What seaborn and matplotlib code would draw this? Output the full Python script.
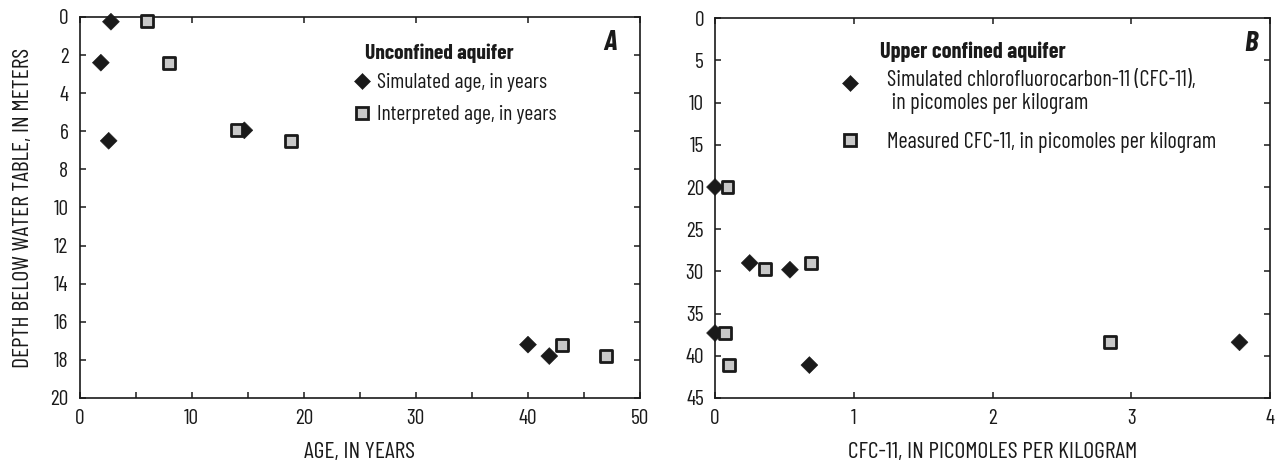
import matplotlib
matplotlib.use("Agg")
import matplotlib.pyplot as plt
import matplotlib.transforms as mtransforms
from matplotlib.ticker import MultipleLocator
from matplotlib.lines import Line2D
from matplotlib.legend_handler import HandlerLine2D
import seaborn as sns
import pandas as pd

# Panel A: unconfined aquifer, age versus depth below water table
sim_age = [2.8, 1.9, 2.6, 14.7, 40.0, 41.9]
sim_age_depth = [0.25, 2.4, 6.5, 5.95, 17.2, 17.8]
int_age = [6.0, 8.0, 14.0, 18.9, 43.0, 47.0]
int_age_depth = [0.2, 2.4, 5.95, 6.5, 17.2, 17.8]

# Panel B: upper confined aquifer, CFC-11 versus depth
sim_cfc = [0.0, 0.25, 0.54, 0.0, 0.68, 3.78]
sim_cfc_depth = [20.0, 29.0, 29.8, 37.3, 41.1, 38.4]
meas_cfc = [0.09, 0.36, 0.69, 0.07, 0.10, 2.85]
meas_cfc_depth = [20.0, 29.7, 29.0, 37.3, 41.1, 38.4]

labels_a = ["Simulated age, in years", "Interpreted age, in years"]
labels_b = ["Simulated chlorofluorocarbon-11 (CFC-11),\n in picomoles per kilogram",
            "Measured CFC-11, in picomoles per kilogram"]

INK = "#1a1a1a"
FILL = "#c8c8c8"
FS = 15.5        # legend text, panel A
FS_B = 16        # legend text, panel B
FS_LABEL = 17    # axis titles
FS_TICK = 15.5   # tick labels
FAMILY = ["Barlow Condensed", "DejaVu Sans"]

sns.set_style("ticks")
plt.rcParams["font.family"] = FAMILY
plt.rcParams["font.size"] = FS
plt.rcParams["axes.linewidth"] = 1.2
plt.rcParams["text.color"] = INK
plt.rcParams["axes.labelcolor"] = INK
plt.rcParams["xtick.color"] = INK
plt.rcParams["ytick.color"] = INK

df_a = pd.DataFrame({
    "x": sim_age + int_age,
    "y": sim_age_depth + int_age_depth,
    "series": [labels_a[0]] * len(sim_age) + [labels_a[1]] * len(int_age),
})
df_b = pd.DataFrame({
    "x": sim_cfc + meas_cfc,
    "y": sim_cfc_depth + meas_cfc_depth,
    "series": [labels_b[0]] * len(sim_cfc) + [labels_b[1]] * len(meas_cfc),
})

fig = plt.figure(figsize=(12.83, 4.61), dpi=100)
ax_a = fig.add_axes([0.0620, 0.1367, 0.4369, 0.8265])
ax_b = fig.add_axes([0.5573, 0.1367, 0.4326, 0.8236])


def draw(ax, df, labels):
    palette = {labels[0]: INK, labels[1]: FILL}
    markers = {labels[0]: "D", labels[1]: "s"}
    sns.scatterplot(data=df, x="x", y="y", hue="series", style="series",
                    hue_order=labels, style_order=labels,
                    palette=palette, markers=markers, ax=ax, s=74,
                    edgecolor=INK, linewidth=1.8, clip_on=False, zorder=3,
                    legend=False)
    # diamonds get a thin edge, squares a heavy black outline
    coll = ax.collections[0]
    coll.set_linewidths([0.4 if m == labels[0] else 2.0 for m in df["series"]])


draw(ax_a, df_a, labels_a)
draw(ax_b, df_b, labels_b)


class RaisedHandler(HandlerLine2D):
    """Marker lifted so it sits beside the first line of a two-line label."""

    def __init__(self, lift_pt, **kw):
        super().__init__(**kw)
        self.lift_pt = lift_pt

    def create_artists(self, legend, orig_handle, xdescent, ydescent,
                       width, height, fontsize, trans):
        arts = super().create_artists(legend, orig_handle, xdescent, ydescent,
                                      width, height, fontsize, trans)
        shifted = mtransforms.offset_copy(trans, fig=legend.figure,
                                          y=self.lift_pt, units="points")
        for a in arts:
            a.set_transform(shifted)
        return arts


def handles(labels):
    return [
        Line2D([], [], linestyle="none", marker="D", markersize=7.8,
               markerfacecolor=INK, markeredgecolor=INK, markeredgewidth=0.4,
               label=labels[0]),
        Line2D([], [], linestyle="none", marker="s", markersize=8.2,
               markerfacecolor=FILL, markeredgecolor=INK,
               markeredgewidth=2.0, label=labels[1]),
    ]


def px(x, y):
    return (x / 1283.0, 1 - y / 461.0)


# Legend for panel A
ax_a.legend(handles=handles(labels_a), loc="upper left",
            bbox_to_anchor=px(352, 73), bbox_transform=fig.transFigure,
            frameon=False, borderpad=0, borderaxespad=0,
            handletextpad=0.25, handlelength=0.9, labelspacing=0.6, fontsize=FS)
fig.text(*px(365, 53), "Unconfined aquifer", ha="left", va="center",
         fontsize=FS, fontweight="bold")

# Legend for panel B
hb = handles(labels_b)
leg_b = ax_b.legend(handles=hb, loc="upper left",
                    bbox_to_anchor=px(840, 70), bbox_transform=fig.transFigure,
                    frameon=False, borderpad=0, borderaxespad=0,
                    handletextpad=1.2, handlelength=0.9, labelspacing=0.8,
                    fontsize=FS_B, handler_map={hb[0]: RaisedHandler(6.5)})
for t in leg_b.get_texts():
    t.set_linespacing(1.15)
fig.text(*px(880, 52), "Upper confined aquifer", ha="left", va="center",
         fontsize=FS_B, fontweight="bold")

# Panel A axes
ax_a.set_xlim(0, 50)
ax_a.set_ylim(20, 0)
ax_a.xaxis.set_major_locator(MultipleLocator(10))
ax_a.xaxis.set_minor_locator(MultipleLocator(5))
ax_a.yaxis.set_major_locator(MultipleLocator(2))
ax_a.set_xlabel("AGE, IN YEARS", fontsize=FS_LABEL, labelpad=10)
ax_a.set_ylabel("DEPTH BELOW WATER TABLE, IN METERS", fontsize=FS_LABEL, labelpad=12)
ax_a.text(0.959, 0.934, "A", transform=ax_a.transAxes, ha="right", va="center",
          fontsize=21, fontweight="bold", fontstyle="italic")

# Panel B axes
ax_b.set_xlim(0, 4)
ax_b.set_ylim(45, 0)
ax_b.xaxis.set_major_locator(MultipleLocator(1))
ax_b.yaxis.set_major_locator(MultipleLocator(5))
ax_b.set_xlabel("CFC-11, IN PICOMOLES PER KILOGRAM", fontsize=FS_LABEL, labelpad=10)
ax_b.set_ylabel("")
ax_b.text(0.978, 0.934, "B", transform=ax_b.transAxes, ha="right", va="center",
          fontsize=21, fontweight="bold", fontstyle="italic")

for ax in (ax_a, ax_b):
    ax.tick_params(which="both", direction="in", top=True, right=True,
                   labelsize=FS_TICK, width=1.1, pad=8)
    ax.tick_params(which="major", length=4.5)
    ax.tick_params(which="minor", length=4.5, top=False)
    for sp in ax.spines.values():
        sp.set_color(INK)

fig.savefig("out.png", dpi=100)
